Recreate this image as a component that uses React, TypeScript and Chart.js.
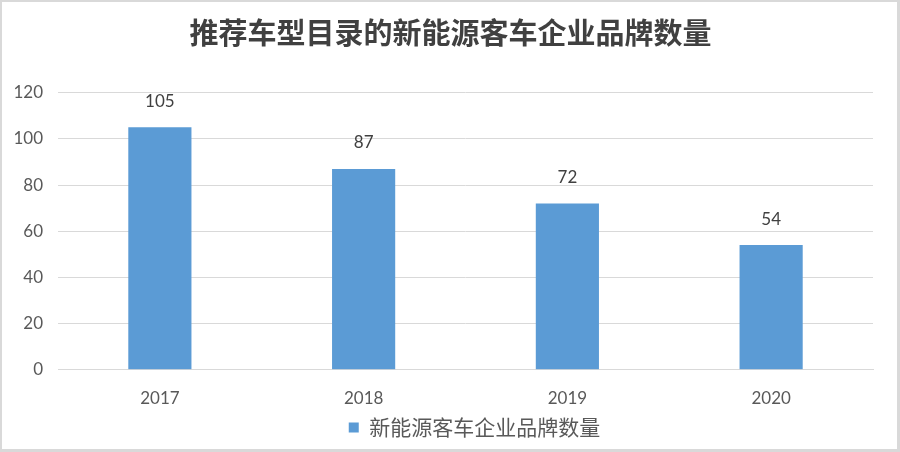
import React, { useEffect, useRef } from "react";
import { Chart, registerables } from "chart.js";

Chart.register(...registerables);

const titleText = "推荐车型目录的新能源客车企业品牌数量";
const seriesLabel = "新能源客车企业品牌数量";
const categories = ["2017", "2018", "2019", "2020"];
const values = [105, 87, 72, 54];
const yTicks = [0, 20, 40, 60, 80, 100, 120];

const BAR = "#5B9BD5";
const TEXT = "#595959";
const GRID = "#d9d9d9";

const frame = {
  id: "frame",
  afterDraw(chart: any) {
    const { ctx, width, height } = chart;
    ctx.save();
    ctx.fillStyle = "#d9d9d9";
    ctx.fillRect(0, 0, width, 2);
    ctx.fillRect(0, 0, 2, height);
    ctx.fillRect(width - 3, 0, 3, height);
    ctx.fillRect(0, height - 3, width, 3);
    ctx.restore();
  },
};

const valueLabels = {
  id: "valueLabels",
  afterDatasetsDraw(chart: any) {
    const { ctx } = chart;
    ctx.save();
    ctx.font = "17px Lato";
    ctx.fillStyle = "#404040";
    ctx.textAlign = "center";
    ctx.textBaseline = "middle";
    chart.data.datasets.forEach((ds: any, di: number) => {
      const meta = chart.getDatasetMeta(di);
      meta.data.forEach((el: any, i: number) => {
        ctx.fillText(String(ds.data[i]), el.x, el.y - 26);
      });
    });
    ctx.restore();
  },
};

const boxShift = {
  id: "boxShift",
  afterLayout(chart: any) {
    const lg = chart.legend;
    if (lg) {
      lg.left += 38;
      lg.right += 38;
    }
    const tb = chart.titleBlock;
    if (tb) {
      tb.left += 14;
      tb.right += 14;
    }
  },
};

export default function App() {
  const ref = useRef<HTMLCanvasElement | null>(null);
  useEffect(() => {
    document.body.style.margin = "0";
    const chart = new Chart(ref.current as HTMLCanvasElement, {
      type: "bar",
      data: {
        labels: categories,
        datasets: [
          {
            label: seriesLabel,
            data: values,
            backgroundColor: BAR,
            borderWidth: 0,
            categoryPercentage: 1,
            barPercentage: 0.31,
          },
        ],
      },
      options: {
        animation: false,
        responsive: false,
        devicePixelRatio: 1,
        layout: { padding: { left: 0, right: 27, top: 0, bottom: 4 } },
        plugins: {
          title: {
            display: true,
            text: titleText,
            color: "#404040",
            font: { family: "'Noto Sans CJK SC'", size: 29, weight: "bold", lineHeight: 1.2 },
            padding: { top: 16, bottom: 41.9 },
          },
          legend: {
            display: true,
            position: "bottom",
            labels: {
              color: TEXT,
              font: { family: "'Noto Sans CJK SC'", size: 21 },
              boxWidth: 10,
              boxHeight: 10,
              padding: 11.4,
            },
          },
          tooltip: { enabled: false },
        },
        scales: {
          x: {
            afterFit(scale: any) {
              scale.height = 35.8;
            },
            grid: { display: false, drawTicks: false },
            border: { display: true, color: GRID, width: 1 },
            ticks: { color: TEXT, font: { family: "Lato", size: 17 }, padding: 18.4 },
          },
          y: {
            min: 0,
            max: 120,
            afterFit(scale: any) {
              scale.width = 58;
            },
            afterBuildTicks(scale: any) {
              scale.ticks = yTicks.map((v) => ({ value: v }));
            },
            grid: { color: GRID, lineWidth: 1, drawTicks: false },
            border: { display: false },
            ticks: { color: TEXT, font: { family: "Lato", size: 17 }, padding: 15 },
          },
        },
      },
      plugins: [valueLabels, boxShift, frame],
    });
    return () => chart.destroy();
  }, []);
  return (
    <div style={{ position: "absolute", left: 0, top: 0, width: 900, height: 452, background: "#fff" }}>
      <canvas ref={ref} width={900} height={452} style={{ display: "block" }} />
    </div>
  );
}
